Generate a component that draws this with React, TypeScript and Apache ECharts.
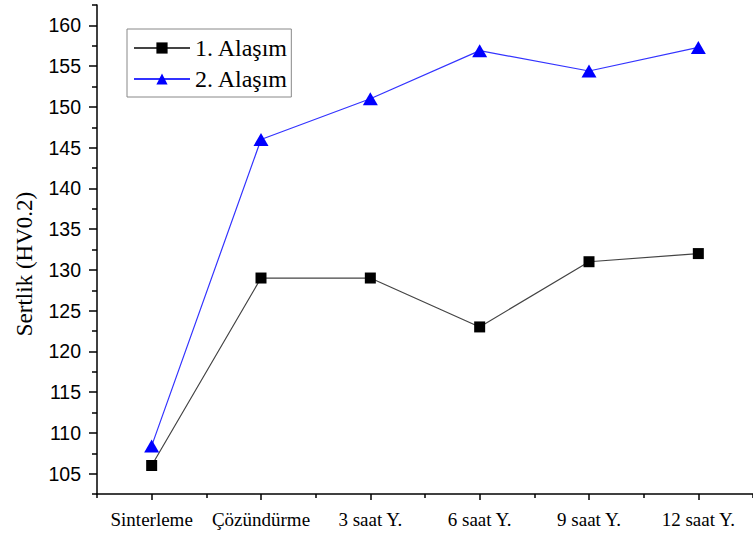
import React, { useEffect, useRef } from "react";
import * as echarts from "echarts";

const categories = ["Sinterleme", "Çözündürme", "3 saat Y.", "6 saat Y.", "9 saat Y.", "12 saat Y."];
const alasim1 = [106, 129, 129, 123, 131, 132];
const alasim2 = [108.4, 146, 151, 156.9, 154.4, 157.3];
const yMajorTicks = [105, 110, 115, 120, 125, 130, 135, 140, 145, 150, 155, 160];
const yMinorTicks = [102.5, 107.5, 112.5, 117.5, 122.5, 127.5, 132.5, 137.5, 142.5, 147.5, 152.5, 157.5, 162.5];
const seriesNames = ["1. Alaşım", "2. Alaşım"];
const yTitle = "Sertlik (HV0.2)";

export default function App() {
  const ref = useRef<HTMLDivElement>(null);
  useEffect(() => {
    if (!ref.current) return;
    const chart = echarts.init(ref.current, null, { renderer: "svg" });
    const serif = "Liberation Serif";
    const axisLine = { show: true, lineStyle: { color: "#000", width: 1.5 } };
    chart.setOption({
      animation: false,
      backgroundColor: "#fff",
      grid: { left: 97, right: -2, top: 5, bottom: 39, containLabel: false },
      legend: {
        orient: "vertical",
        left: 127,
        top: 29,
        padding: [7, 3, 6, 6],
        itemWidth: 56,
        itemHeight: 14,
        itemGap: 7,
        borderColor: "#888",
        borderWidth: 1,
        textStyle: { fontFamily: serif, fontSize: 24, color: "#000", lineHeight: 24 },
        data: seriesNames,
      },
      xAxis: [
        {
          type: "category",
          data: categories,
          position: "bottom",
          boundaryGap: true,
          axisLine,
          axisTick: { show: true, alignWithLabel: true, length: 6, lineStyle: { color: "#000", width: 1.5 } },
          axisLabel: { fontFamily: serif, fontSize: 19, color: "#000", margin: 16, interval: 0 },
          splitLine: { show: false },
        },
        {
          type: "category",
          data: categories,
          position: "bottom",
          boundaryGap: true,
          axisLine: { show: false },
          axisTick: { show: true, alignWithLabel: false, length: 4, interval: 0, lineStyle: { color: "#000", width: 1.5 } },
          axisLabel: { show: false },
          splitLine: { show: false },
        },
      ],
      yAxis: [
        {
          type: "value",
          min: 102.5,
          max: 162.5,
          position: "left",
          axisLine,
          axisTick: { show: true, length: 8, customValues: yMajorTicks, lineStyle: { color: "#000", width: 1.5 } },
          axisLabel: { customValues: yMajorTicks, fontFamily: "Liberation Sans", fontSize: 19.5, color: "#000", margin: 16 },
          splitLine: { show: false },
        },
        {
          type: "value",
          min: 102.5,
          max: 162.5,
          position: "left",
          axisLine: { show: false },
          axisTick: { show: true, length: 5, customValues: yMinorTicks, lineStyle: { color: "#000", width: 1.5 } },
          axisLabel: { show: false },
          splitLine: { show: false },
        },
      ],
      graphic: [
        {
          type: "text",
          x: 24,
          y: 264,
          rotation: Math.PI / 2,
          style: {
            text: yTitle,
            fontFamily: serif,
            fontSize: 23,
            fill: "#000",
            textAlign: "center",
            textVerticalAlign: "middle",
          },
        },
      ],
      series: [
        {
          name: seriesNames[0],
          type: "line",
          xAxisIndex: 0,
          yAxisIndex: 0,
          data: alasim1,
          symbol: "rect",
          symbolSize: 11,
          itemStyle: { color: "#000" },
          lineStyle: { color: "#444", width: 1.2 },
        },
        {
          name: seriesNames[1],
          type: "line",
          xAxisIndex: 0,
          yAxisIndex: 0,
          data: alasim2,
          symbol: "triangle",
          symbolSize: [15, 13],
          itemStyle: { color: "#0000ff" },
          lineStyle: { color: "#3333ff", width: 1.2 },
        },
      ],
    });
    return () => chart.dispose();
  }, []);
  return <div ref={ref} style={{ width: 753, height: 533, position: "absolute", left: 0, top: 0 }} />;
}
